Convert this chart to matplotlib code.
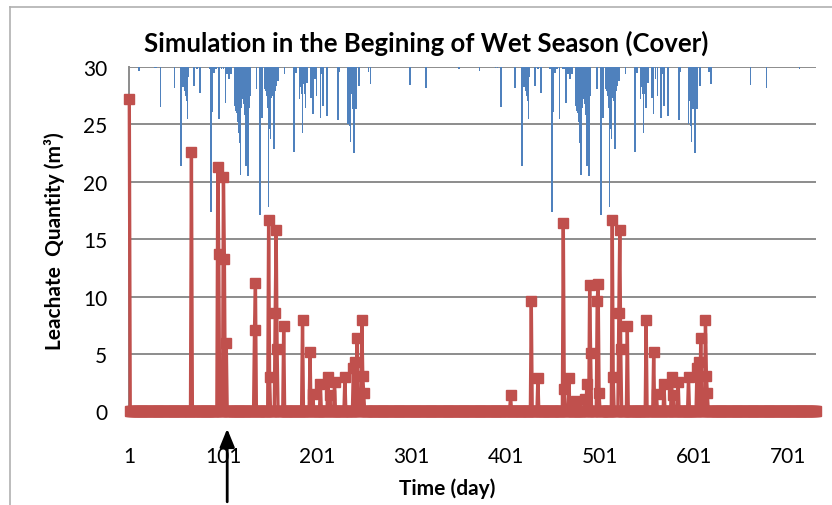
import numpy as np
import matplotlib
matplotlib.use('Agg')
import matplotlib.pyplot as plt
from matplotlib.lines import Line2D

plt.rcParams['font.family'] = ['Lato', 'DejaVu Sans']

# ---- data ----
n_days = 730
xtick_days = [1, 101, 201, 301, 401, 501, 601, 701]
y_ticks = [0, 5, 10, 15, 20, 25, 30]

# rainfall (hanging bars, inverted secondary scale 0..100 mm), day offset within year
rain_doy = [10, 27, 29, 33, 48, 55, 56, 57, 58, 59, 60, 61, 62, 63, 69, 72, 75,
            85, 87, 88, 90, 92, 95, 98, 100, 102, 104, 106, 108,
            112, 113, 114, 115, 116, 117, 118, 119, 120, 121, 122, 123, 124, 125,
            126, 127, 128, 135, 139, 141, 144, 145, 146, 147, 148, 149, 150, 151,
            152, 153, 154, 155, 156, 158, 165, 175, 177, 181, 182, 183, 184, 185,
            186, 187, 189, 193, 194, 195, 197, 199, 203, 204, 206, 210, 222, 223,
            232, 233, 234, 235, 236, 237, 239, 240, 241, 244, 254, 256, 298, 315, 350]
rain_mm = [1.2, 0.3, 0.5, 11.7, 6.1, 28.7, 3.7, 6.0, 4.6, 7.0, 8.5, 10.0, 15.3, 3.0, 5.6, 0.8, 7.7,
           0.8, 42.0, 13.0, 1.7, 0.8, 15.3, 0.8, 0.8, 10.6, 2.2, 3.7, 2.2,
           11.4, 12.8, 13.3, 16.0, 19.1, 22.0, 31.3, 12.0, 8.5, 9.5, 10.9, 14.0, 28.9, 20.0,
           31.6, 12.0, 8.5, 6.6, 43.0, 15.0, 6.6, 7.0, 8.5, 12.0, 40.6, 18.0, 21.0, 9.0,
           8.5, 10.0, 23.8, 7.0, 5.6, 4.1, 2.2, 24.7, 1.7, 9.5, 6.0, 8.0, 19.1, 5.0,
           8.0, 11.9, 4.6, 9.0, 5.0, 13.8, 3.7, 8.5, 14.8, 2.2, 11.4, 14.3, 15.5, 1.6,
           16.7, 10.0, 17.2, 21.9, 8.0, 12.3, 25.0, 9.0, 12.3, 5.7, 1.6, 5.0, 5.2, 6.2, 0.6]
year2_shift = 362   # same rainfall record repeated for the second year
rain_axis_max = 100

# leachate quantity (m3), only non-zero days listed
leach_day = [1, 67, 95, 96, 101, 102, 104, 134, 135, 149, 150, 156, 157, 158, 165,
             185, 193, 196, 204, 212, 214, 219, 230, 239, 241, 243, 248, 249, 250,
             406, 428, 435, 462, 463, 468, 476, 485, 487, 490, 491, 498, 499, 500,
             514, 515, 521, 522, 523, 530, 550, 558, 561, 569, 577, 579, 584, 595,
             604, 606, 608, 613, 614, 615]
leach_m3 = [27.2, 22.6, 21.3, 13.7, 20.4, 13.3, 6.0, 7.1, 11.2, 16.7, 3.0, 8.6, 15.8, 5.4, 7.4,
            8.0, 5.2, 1.5, 2.4, 3.0, 1.4, 2.6, 3.0, 3.8, 4.3, 6.4, 8.0, 3.1, 1.6,
            1.4, 9.6, 2.9, 16.4, 2.0, 2.9, 0.9, 1.1, 2.4, 11.0, 5.1, 9.6, 11.1, 1.6,
            16.7, 3.0, 8.6, 15.8, 5.4, 7.4, 8.0, 5.2, 1.5, 2.4, 3.0, 1.4, 2.6, 3.0,
            3.8, 4.3, 6.4, 8.0, 3.1, 1.6]
arrow_day = 105

# ---- build series ----
days = np.arange(1, n_days + 1)
leach = np.zeros(n_days)
leach[np.array(leach_day) - 1] = leach_m3

rain_days = np.concatenate([1 + np.array(rain_doy), 1 + year2_shift + np.array(rain_doy)])
rain_vals = np.concatenate([rain_mm, rain_mm])
keep = rain_days <= n_days
rain_days = rain_days[keep]
rain_vals = rain_vals[keep]

# ---- plot ----
fig = plt.figure(figsize=(8.32, 5.06), dpi=100)
ax = fig.add_axes([0.1554, 0.1848, 0.8249, 0.6814])

ax.set_xlim(1, n_days)
ax.set_ylim(0, 30)

for yv in y_ticks[1:]:
    ax.axhline(yv, color='#8c8c8c', lw=1.4, zorder=1)

# rain hangs from the top on its own (hidden, inverted) scale
ax.bar(rain_days, -rain_vals * 30.0 / rain_axis_max, bottom=30, width=1.7,
       color='#4F81BD', linewidth=0, zorder=2)

ax.plot(days, leach, color='#C0504D', lw=2.4, marker='s', ms=6.8,
        mec='#C0504D', mfc='#C0504D', zorder=3, clip_on=False)

ax.set_xticks(xtick_days)
ax.set_yticks(y_ticks)
ax.tick_params(axis='both', length=0, labelsize=15)
ax.tick_params(axis='x', pad=25)
ax.tick_params(axis='y', pad=16)

for s in ['top', 'right', 'bottom']:
    ax.spines[s].set_visible(False)
ax.spines['left'].set_color('#8c8c8c')
ax.spines['left'].set_linewidth(1.4)

fig.text(0.512, 0.915, 'Simulation in the Begining of Wet Season (Cover)',
         ha='center', va='center', fontsize=18.5, fontweight='bold')
fig.text(0.066, 0.523, 'Leachate  Quantity (m³)', rotation=90,
         ha='center', va='center', fontsize=15, fontweight='bold')
fig.text(0.537, 0.034, 'Time (day)', ha='center', va='center',
         fontsize=15, fontweight='bold')

# arrow under the axis pointing at the marked day
ax.annotate('', xy=(arrow_day, -0.042), xycoords=('data', 'axes fraction'),
            xytext=(arrow_day, -0.27), textcoords=('data', 'axes fraction'),
            arrowprops=dict(arrowstyle='-|>,head_length=1.1,head_width=0.45',
                            color='black', lw=2, mutation_scale=10),
            annotation_clip=False)

# chart-area frame (only top and left edge visible in the reference)
fig.add_artist(Line2D([0.012, 1.0], [0.984, 0.984], transform=fig.transFigure,
                      color='#b0b0b0', lw=1.2))
fig.add_artist(Line2D([0.012, 0.012], [0.0, 0.984], transform=fig.transFigure,
                      color='#b0b0b0', lw=1.2))

fig.savefig('out.png', dpi=100)
